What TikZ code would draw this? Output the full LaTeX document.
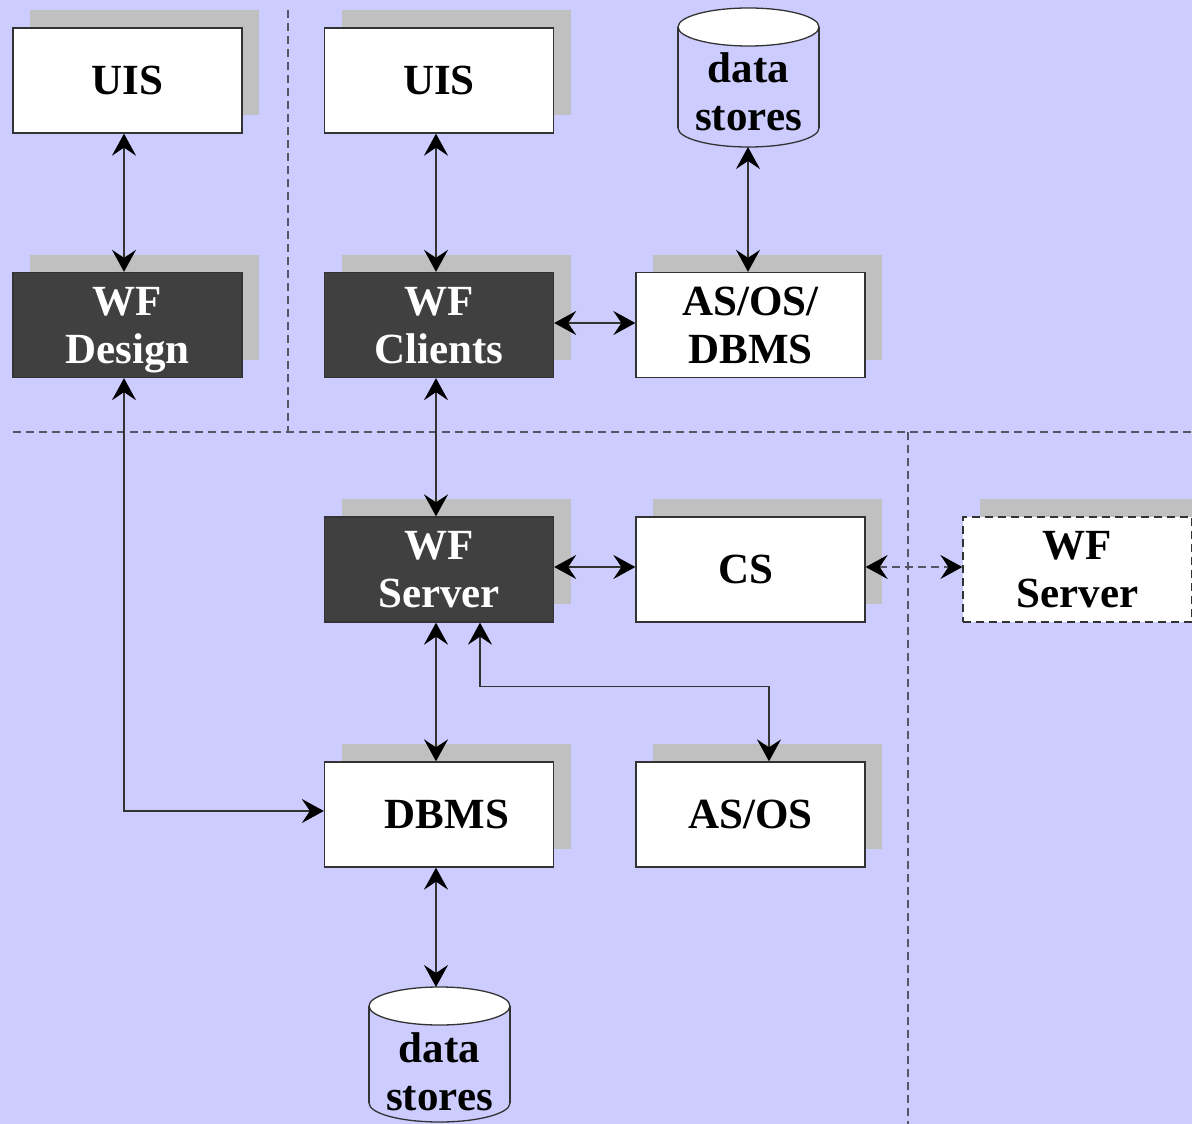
\documentclass[tikz,border=0pt]{standalone}
\usepackage{fontspec}
\setmainfont{Liberation Serif}
\usetikzlibrary{arrows.meta,shadows}
\definecolor{bg}{HTML}{CCCCFF}
\definecolor{shadowgray}{HTML}{C0C0C0}
\definecolor{darkfill}{HTML}{404040}
\definecolor{edge}{HTML}{333333}
\definecolor{dashgray}{HTML}{555566}
\begin{document}
\begin{tikzpicture}[x=1pt,y=-1pt,
  lbl/.style={font=\fontsize{43}{48}\selectfont\bfseries},
  box/.style={lbl, draw=edge, line width=1.3pt, fill=white, minimum width=229pt, minimum height=105pt, inner sep=0pt, align=center, text depth=0pt,
    general shadow={draw=none, fill=shadowgray, shadow xshift=17pt, shadow yshift=18pt}},
  darkbox/.style={box, fill=darkfill, text=white},
  ghostbox/.style={box, dash pattern=on 8pt off 5pt},
  link/.style={line width=1.3pt, draw=black!80, {Stealth[length=22pt,width=24pt,inset=8pt,color=black]}-{Stealth[length=22pt,width=24pt,inset=8pt,color=black]}},
  divider/.style={draw=dashgray, line width=1.3pt, dash pattern=on 8pt off 5pt},
  cyl/.style={draw=edge, line width=1.3pt}
]
\useasboundingbox (0,0) rectangle (1192,1124);
\fill[bg] (0,0) rectangle (1192,1124);

% dividers
\draw[divider] (288,10) -- (288,432);
\draw[divider] (13,432) -- (1192,432);
\draw[divider] (908,432) -- (908,1124);

% boxes
\node[box] (uis1) at (127.5,80.5) {UIS};
\node[box] (uis2) at (439,80.5) {UIS};
\node[darkbox] (wfd) at (127.5,325) {WF\\Design};
\node[darkbox] (wfc) at (439,325) {WF\\Clients};
\node[box] (asosdb) at (750.5,325) {AS/OS/\\DBMS};
\node[darkbox] (wfs) at (439,569.5) {WF\\Server};
\node[box] (cs) at (750.5,569.5) {CS\hspace*{10pt}};
\node[ghostbox] (ghost) at (1077.5,569.5) {WF\\Server};
\node[box] (dbms) at (439,814.5) {\hspace*{16pt}DBMS};
\node[box] (asos) at (750.5,814.5) {AS/OS};

% top data store cylinder
\draw[cyl] (678,27) -- (678,128);
\draw[cyl] (819,27) -- (819,128);
\begin{scope}
  \clip (600,128) rectangle (900,200);
  \draw[cyl] (748.5,128) ellipse [x radius=70.5, y radius=19];
\end{scope}
\draw[cyl, fill=white] (748.5,27) ellipse [x radius=70.5, y radius=19];
\node[lbl, anchor=base] (ds1a) at (748.5,83) {data};
\node[lbl, anchor=base] (ds1b) at (748.5,130) {stores};
\coordinate (ds1bot) at (748,147);

% bottom data store cylinder
\draw[cyl] (369,1006) -- (369,1103);
\draw[cyl] (510,1006) -- (510,1103);
\begin{scope}
  \clip (300,1103) rectangle (600,1200);
  \draw[cyl] (439.5,1103) ellipse [x radius=70.5, y radius=19];
\end{scope}
\draw[cyl, fill=white] (439.5,1006) ellipse [x radius=70.5, y radius=19];
\node[lbl, anchor=base] (ds2a) at (439.5,1062) {data};
\node[lbl, anchor=base] (ds2b) at (439.5,1110) {stores};
\coordinate (ds2top) at (436,987);

% connectors
\draw[link] ([xshift=-3.5pt]uis1.south) -- ([xshift=-3.5pt]wfd.north);
\draw[link] ([xshift=-3pt]uis2.south) -- ([xshift=-3pt]wfc.north);
\draw[link] (ds1bot) -- (ds1bot |- asosdb.north);
\draw[link] ([yshift=2pt]wfc.east) -- ([yshift=2pt]asosdb.west);
\draw[link] ([xshift=-3pt]wfc.south) -- ([xshift=-3pt]wfs.north);
\draw[link] ([yshift=2.5pt]wfs.east) -- ([yshift=2.5pt]cs.west);
\draw[link, draw=dashgray, dash pattern=on 8pt off 5pt] ([yshift=2.5pt]cs.east) -- ([yshift=2.5pt]ghost.west);
\draw[link] ([xshift=-3pt]wfs.south) -- ([xshift=-3pt]dbms.north);
\draw[link] ([xshift=41pt]wfs.south) -- ++(0,64) -| ([xshift=18.5pt]asos.north);
\draw[link] ([xshift=-3.5pt]wfd.south) |- ([yshift=3.5pt]dbms.west);
\draw[link] ([xshift=-3pt]dbms.south) -- (ds2top);
\end{tikzpicture}
\end{document}
